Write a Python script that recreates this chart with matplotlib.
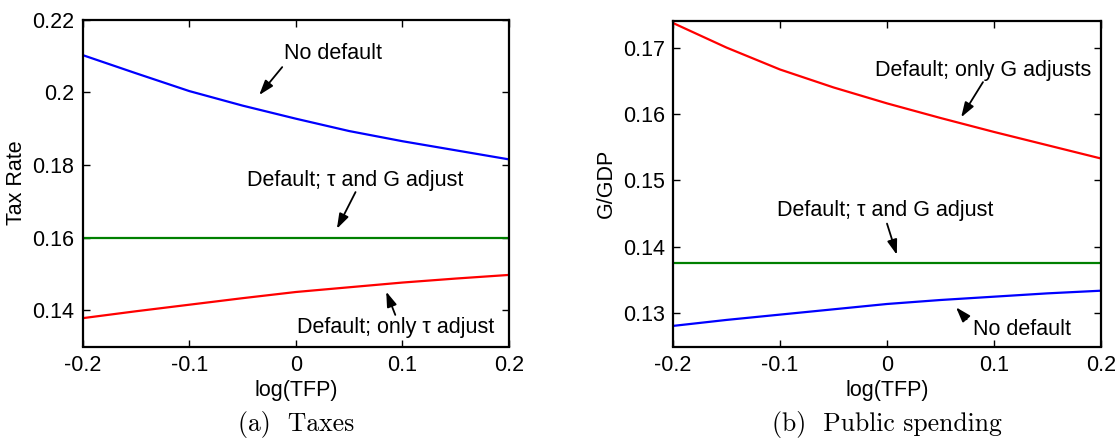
import matplotlib

matplotlib.use("Agg")
import matplotlib.pyplot as plt

plt.rcParams["font.family"] = ["Liberation Sans", "DejaVu Sans"]

# log(TFP) grid
tfp = [-0.2, -0.15, -0.1, -0.05, 0.0, 0.05, 0.1, 0.15, 0.2]

# (a) Taxes
tax_no_default = [0.2102, 0.2052, 0.2003, 0.1963, 0.1927, 0.1893, 0.1865, 0.1840, 0.1815]
tax_tau_g = [0.1598] * 9
tax_only_tau = [0.1378, 0.1397, 0.1415, 0.1433, 0.1450, 0.1463, 0.1476, 0.1487, 0.1497]

# (b) Public spending
g_only_g = [0.1737, 0.1700, 0.1667, 0.1640, 0.1616, 0.1594, 0.1573, 0.1553, 0.1533]
g_tau_g = [0.1376] * 9
g_no_default = [0.1281, 0.1290, 0.1298, 0.1306, 0.1314, 0.1320, 0.1325, 0.1330, 0.1334]

BLUE = "#0000FF"
RED = "#FF0000"
GREEN = "#008000"
FS = 15.5

fig = plt.figure(figsize=(11.2, 4.46), dpi=100)
ax1 = fig.add_axes([82.7 / 1120, 1 - 346.5 / 446, 426.3 / 1120, 327.0 / 446])
ax2 = fig.add_axes([673 / 1120, 1 - 346.5 / 446, 428 / 1120, 325.5 / 446])


def style(ax, yticks, ylabels):
    ax.set_xlim(-0.2, 0.2)
    ax.set_xticks([-0.2, -0.1, 0, 0.1, 0.2])
    ax.set_xticklabels(["-0.2", "-0.1", "0", "0.1", "0.2"])
    ax.set_yticks(yticks)
    ax.set_yticklabels(ylabels)
    ax.tick_params(direction="in", length=5, width=1, top=True, right=True,
                   labelsize=FS, pad=6)
    for s in ax.spines.values():
        s.set_linewidth(1.6)
    ax.set_xlabel("log(TFP)", fontsize=FS, labelpad=3)


def arrow(ax, tail, head):
    ax.annotate("", xy=head, xytext=tail,
                arrowprops={"arrowstyle": "-|>,head_length=0.9,head_width=0.3",
                            "color": "black", "lw": 1.3, "shrinkA": 0, "shrinkB": 0})


# panel (a)
ax1.plot(tfp, tax_no_default, color=BLUE, lw=1.6)
ax1.plot(tfp, tax_tau_g, color=GREEN, lw=1.6)
ax1.plot(tfp, tax_only_tau, color=RED, lw=1.6)
ax1.set_ylim(0.13, 0.22)
style(ax1, [0.14, 0.16, 0.18, 0.20, 0.22], ["0.14", "0.16", "0.18", "0.2", "0.22"])
ax1.set_ylabel("Tax Rate", fontsize=FS, labelpad=4)
ax1.text(0.035, 0.2107, "No default", fontsize=FS, ha="center", va="center")
arrow(ax1, (-0.0128, 0.2069), (-0.0344, 0.1992))
ax1.text(0.056, 0.1756, "Default; τ and G adjust", fontsize=FS, ha="center", va="center")
arrow(ax1, (0.056, 0.1725), (0.0385, 0.1624))
ax1.text(0.0933, 0.1352, "Default; only τ adjust", fontsize=FS, ha="center", va="center")
arrow(ax1, (0.0933, 0.1387), (0.0848, 0.1451))

# panel (b)
ax2.plot(tfp, g_only_g, color=RED, lw=1.6)
ax2.plot(tfp, g_tau_g, color=GREEN, lw=1.6)
ax2.plot(tfp, g_no_default, color=BLUE, lw=1.6)
ax2.set_ylim(0.125, 0.174)
style(ax2, [0.13, 0.14, 0.15, 0.16, 0.17], ["0.13", "0.14", "0.15", "0.16", "0.17"])
ax2.set_ylabel("G/GDP", fontsize=FS, labelpad=4)
ax2.text(0.0897, 0.1666, "Default; only G adjusts", fontsize=FS, ha="center", va="center")
arrow(ax2, (0.0897, 0.1648), (0.0693, 0.1595))
ax2.text(-0.002, 0.1455, "Default; τ and G adjust", fontsize=FS, ha="center", va="center")
arrow(ax2, (0.0, 0.1435), (0.0092, 0.1388))
ax2.text(0.126, 0.1275, "No default", fontsize=FS, ha="center", va="center")
arrow(ax2, (0.0744, 0.1291), (0.0645, 0.1309))

fig.text(296 / 1120, 1 - 425 / 446, "(a)  Taxes", fontsize=18.5, family="cmr10",
         ha="center", va="center")
fig.text(887 / 1120, 1 - 425 / 446, "(b)  Public spending", fontsize=18.5, family="cmr10",
         ha="center", va="center")

fig.savefig("out.png", dpi=100)
